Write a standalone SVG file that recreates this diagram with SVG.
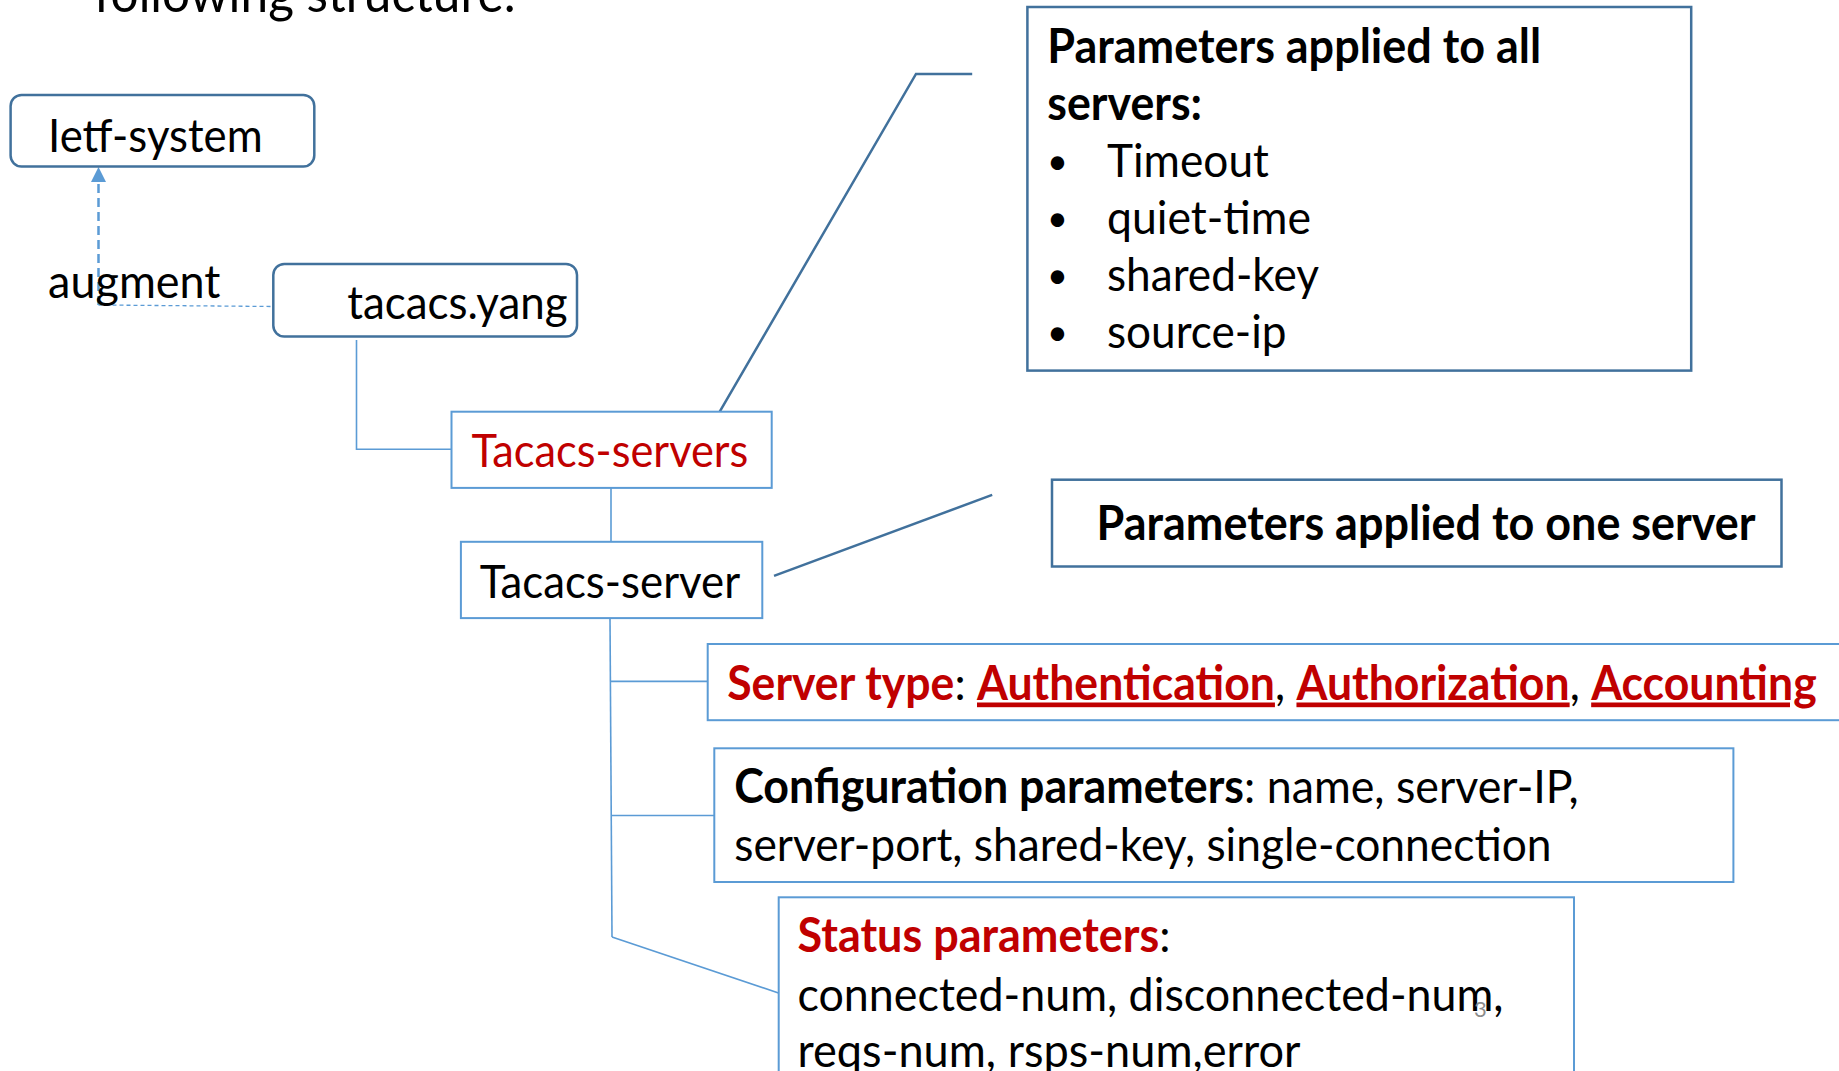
<svg xmlns="http://www.w3.org/2000/svg" width="1839" height="1071" viewBox="0 0 1839 1071">
<style>
text{font-family:Lato,"Open Sans","Liberation Sans",sans-serif;font-size:47px;fill:#000}
.b{font-weight:bold}
.red{fill:#C00000}
.u{text-decoration:underline}
.bul{font-size:36px}
.rbox{fill:#fff;stroke:#41719C;stroke-width:2.5}
.lbox{fill:#fff;stroke:#5B9BD5;stroke-width:2}
.pbox{fill:#fff;stroke:#41719C;stroke-width:2.5}
.conn{fill:none;stroke:#5B9BD5;stroke-width:1.6}
.call{fill:none;stroke:#41719C;stroke-width:2.5}
</style>
<text x="94" y="12" textLength="422" lengthAdjust="spacingAndGlyphs" style="font-size:53px">following structure:</text>
<g id="connectors">
<path class="conn" d="M356.5,340 V449.2 H451.5"/>
<path class="conn" d="M611,487.9 V541.8"/>
<path class="conn" d="M610,618 L612,937"/>
<path class="conn" d="M610,681.4 H707.7"/>
<path class="conn" d="M611,815.5 H714.3"/>
<path class="conn" d="M612,937 L778.5,993"/>
<path d="M98.5,305 V181" fill="none" stroke="#5B9BD5" stroke-width="2.5" stroke-dasharray="9,5"/>
<path d="M98.5,167 L106,182 L91,182 Z" fill="#5B9BD5"/>
<path d="M98.5,305 L273.3,306.5" fill="none" stroke="#5B9BD5" stroke-width="1.3" stroke-dasharray="4,3"/>
<path class="call" d="M717.7,415.2 L916,73.9 H972.2"/>
<path class="call" d="M774,575.8 L992.2,494.9"/>
</g>
<g id="ietf-system">
<rect class="rbox" x="10.6" y="95" width="303.7" height="71.5" rx="11"/>
<text x="48.1" y="151.5" textLength="214.6" lengthAdjust="spacingAndGlyphs">Ietf-system</text>
</g>
<g id="augment-label">
<text x="48.1" y="298" textLength="172.4" lengthAdjust="spacingAndGlyphs">augment</text>
</g>
<g id="tacacs-yang">
<rect class="rbox" x="273.3" y="263.9" width="303.7" height="72.7" rx="11"/>
<text x="347.2" y="319" textLength="220.5" lengthAdjust="spacingAndGlyphs">tacacs.yang</text>
</g>
<g id="tacacs-servers">
<rect class="lbox" x="451.5" y="411.7" width="320.2" height="76.2"/>
<text class="red" x="471.5" y="467" textLength="276.8" lengthAdjust="spacingAndGlyphs">Tacacs-servers</text>
</g>
<g id="tacacs-server">
<rect class="lbox" x="460.9" y="541.8" width="301.4" height="76.3"/>
<text x="479.7" y="597.5" textLength="260.4" lengthAdjust="spacingAndGlyphs">Tacacs-server</text>
</g>
<g id="all-servers">
<rect class="pbox" x="1027.4" y="7" width="663.8" height="363.6"/>
<text class="b" x="1047.3" y="62.5" textLength="493.8" lengthAdjust="spacingAndGlyphs">Parameters applied to all</text>
<text class="b" x="1047.3" y="119.5" textLength="154.8" lengthAdjust="spacingAndGlyphs">servers:</text>
<text class="bul" x="1047" y="174">•</text>
<text x="1107" y="176.5" textLength="161.9" lengthAdjust="spacingAndGlyphs">Timeout</text>
<text class="bul" x="1047" y="231">•</text>
<text x="1107" y="233.5" textLength="204" lengthAdjust="spacingAndGlyphs">quiet-time</text>
<text class="bul" x="1047" y="288">•</text>
<text x="1107" y="290.5" textLength="212" lengthAdjust="spacingAndGlyphs">shared-key</text>
<text class="bul" x="1047" y="345">•</text>
<text x="1107" y="347.5" textLength="179.5" lengthAdjust="spacingAndGlyphs">source-ip</text>
</g>
<g id="one-server">
<rect class="pbox" x="1052" y="479.7" width="729.5" height="86.8"/>
<text class="b" x="1096.6" y="540" textLength="659" lengthAdjust="spacingAndGlyphs">Parameters applied to one server</text>
</g>
<g id="server-type">
<rect class="lbox" x="707.7" y="644" width="1150" height="76.2"/>
<text x="727.2" y="699.5" textLength="1089.5" lengthAdjust="spacingAndGlyphs"><tspan class="b red">Server type</tspan>: <tspan class="b red u">Authentication</tspan>, <tspan class="b red u">Authorization</tspan>, <tspan class="b red u">Accounting</tspan></text>
</g>
<g id="config-params">
<rect class="lbox" x="714.3" y="748.3" width="1019.1" height="133.7"/>
<text x="734.2" y="803" textLength="844.4" lengthAdjust="spacingAndGlyphs"><tspan class="b">Configuration parameters</tspan>: name, server-IP,</text>
<text x="734.2" y="860.5" textLength="817.4" lengthAdjust="spacingAndGlyphs">server-port, shared-key, single-connection</text>
</g>
<g id="status-params">
<rect class="lbox" x="778.7" y="897.3" width="795.3" height="200"/>
<text x="797.5" y="952" textLength="373" lengthAdjust="spacingAndGlyphs"><tspan class="b red">Status parameters</tspan>:</text>
<text x="797.5" y="1010.5" textLength="706" lengthAdjust="spacingAndGlyphs">connected-num, disconnected-num,</text>
<text x="797.5" y="1067" textLength="503" lengthAdjust="spacingAndGlyphs">reqs-num, rsps-num,error</text>
<text x="1474" y="1017" style="font-size:22px;fill:#8C8C8C">3</text>
</g>
</svg>
